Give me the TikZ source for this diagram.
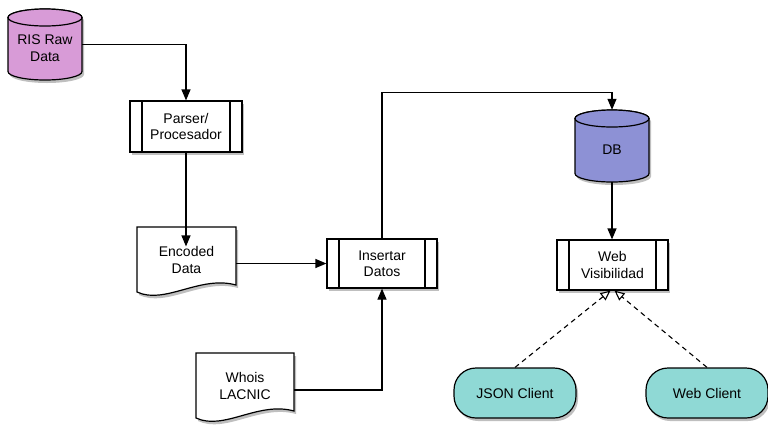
\documentclass[tikz,border=0pt]{standalone}
\usepackage{fontspec}
\setmainfont{Liberation Sans}
\usetikzlibrary{arrows.meta,shadows}
\definecolor{rispink}{HTML}{D89BD7}
\definecolor{dbblue}{HTML}{8D91D5}
\definecolor{clientteal}{HTML}{8FD9D5}
\tikzset{
  myshadow/.style={drop shadow={shadow xshift=2pt, shadow yshift=-3pt, opacity=0.25, fill=black}},
  txt/.style={font=\fontsize{14}{16.5}\selectfont, align=center, inner sep=0pt},
  outline/.style={draw=black, line width=1.2pt},
  anchorbox/.style={txt, minimum width=#1},
  proc/.style={txt, outline, fill=white, myshadow, minimum height=50pt,
    path picture={
      \draw[line width=1.2pt] ([xshift=12pt]path picture bounding box.north west) -- ([xshift=12pt]path picture bounding box.south west);
      \draw[line width=1.2pt] ([xshift=-12pt]path picture bounding box.north east) -- ([xshift=-12pt]path picture bounding box.south east);
    }},
  client/.style={txt, outline, fill=clientteal, myshadow, rounded corners=22pt, minimum width=122pt, minimum height=50pt},
  arr/.style={-{Triangle[length=11pt,width=9pt]}, line width=1.2pt},
  openarr/.style={-{Triangle[open,length=10pt,width=9pt,fill=white]}, line width=1.1pt, dash pattern=on 5pt off 4pt},
}
\begin{document}
\begin{tikzpicture}[x=1pt,y=1pt]
\useasboundingbox (0,0) rectangle (768,-424);

% RIS Raw Data cylinder
\draw[outline, fill=rispink, myshadow] (8,-17.5) -- (8,-71.5) arc[start angle=180, end angle=360, x radius=37pt, y radius=8.5pt] -- (82,-17.5) arc[start angle=0, end angle=180, x radius=37pt, y radius=8.5pt] -- cycle;
\draw[outline, fill=rispink] (45,-17.5) ellipse[x radius=37pt, y radius=8.5pt];
\node[anchorbox=74pt, minimum height=71pt] (ris) at (45,-44.5) {};
\node[txt] (ristxt) at (45,-48) {RIS Raw\\Data};

% DB cylinder
\draw[outline, fill=dbblue, myshadow] (575,-118.5) -- (575,-173.5) arc[start angle=180, end angle=360, x radius=37pt, y radius=8.5pt] -- (649,-118.5) arc[start angle=0, end angle=180, x radius=37pt, y radius=8.5pt] -- cycle;
\draw[outline, fill=dbblue] (612,-118.5) ellipse[x radius=37pt, y radius=8.5pt];
\node[anchorbox=74pt, minimum height=72pt] (db) at (612,-146) {};
\node[txt] (dbtxt) at (612,-150) {DB};

% Encoded Data document
\draw[outline, fill=white, myshadow] (137,-227) -- (236,-227) -- (236,-285) .. controls (200,-275) and (165,-305) .. (137,-292) -- cycle;
\node[anchorbox=99pt] (enc) at (186.5,-260) {Encoded\\Data};

% Whois LACNIC document
\draw[outline, fill=white, myshadow] (196,-353) -- (294,-353) -- (294,-411) .. controls (258,-401) and (224,-431) .. (196,-418) -- cycle;
\node[anchorbox=98pt] (whois) at (245,-386) {Whois\\LACNIC};

% Process boxes
\node[proc, minimum width=112pt, minimum height=51pt] (parser) at (186,-126.5) {Parser/\\Procesador};
\node[proc, minimum width=110pt, minimum height=49pt] (ins) at (382,-263.5) {Insertar\\Datos};
\node[proc, minimum width=111pt, minimum height=50pt] (web) at (612.5,-265) {Web\\Visibilidad};

% Clients
\node[client] (json) at (515,-393) {JSON Client};
\node[client] (wclient) at (707,-393) {Web Client};

% Connectors
\draw[arr] (ris.east) -| (parser.north);
\draw[arr] (parser.south) -- (parser.south |- enc.north);
\draw[arr] (enc.east |- ins.west) -- (ins.west);
\draw[arr] ([yshift=-4pt]whois.east) -| (ins.south);
\draw[arr] (ins.north) |- ([yshift=17pt]db.north) -- (db.north);
\draw[arr] (db.south) -- (db.south |- web.north);
\draw[openarr] (json.north) -- ([xshift=-2pt]web.south);
\draw[openarr] (wclient.north) -- ([xshift=2pt]web.south);
\end{tikzpicture}
\end{document}
